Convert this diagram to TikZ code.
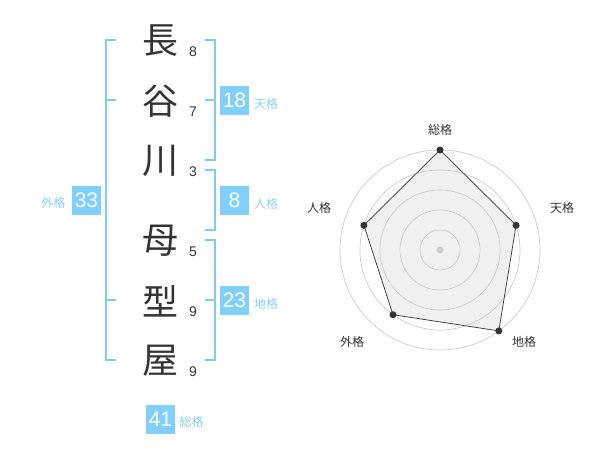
\documentclass[tikz,border=0pt]{standalone}
\usepackage{fontspec}
\newfontfamily\cjk{Noto Sans CJK JP}
\newfontfamily\arial{Liberation Sans}
\definecolor{brk}{HTML}{80CBF5}
\definecolor{boxblue}{HTML}{80CFFC}
\definecolor{lblue}{HTML}{8DD0F5}
\definecolor{ink}{HTML}{333333}
\definecolor{ring}{HTML}{CCCCCC}
\definecolor{area}{HTML}{F0F0F0}
\tikzset{
  namechar/.style={font=\cjk\fontsize{36}{36}\selectfont, text=ink, inner sep=0pt},
  strokes/.style={font=\arial\fontsize{14}{14}\selectfont, text=ink, inner sep=0pt, anchor=base},
  scorebox/.style={fill=boxblue, text=white, minimum width=29pt, minimum height=29pt, inner sep=0pt, font=\arial\fontsize{21}{21}\selectfont},
  kakulabel/.style={font=\cjk\fontsize{12}{12}\selectfont, text=lblue, inner sep=0pt},
  bracket/.style={draw=brk, line width=2pt},
  radarlabel/.style={font=\cjk\fontsize{12}{12}\selectfont, text=ink, inner sep=0pt},
  ringline/.style={draw=ring, line width=0.7pt},
  dotmark/.style={circle, fill=ink, minimum size=7pt, inner sep=0pt}
}
\begin{document}
\begin{tikzpicture}[x=1pt,y=-1pt]
\useasboundingbox (0,0) rectangle (600,470);
% name characters
\node[namechar] (c1) at (160,41) {長};
\node[namechar] (c2) at (160,101) {谷};
\node[namechar] (c3) at (160,161) {川};
\node[namechar] (c4) at (160,241) {母};
\node[namechar] (c5) at (160,301) {型};
\node[namechar] (c6) at (160,361) {屋};
% stroke counts
\node[strokes] (s1) at (193,57) {8};
\node[strokes] (s2) at (193,117) {7};
\node[strokes] (s3) at (193,177) {3};
\node[strokes] (s4) at (193,257) {5};
\node[strokes] (s5) at (193,317) {9};
\node[strokes] (s6) at (193,377) {9};
% brackets
\draw[bracket] (116,40) -- (106,40) -- (106,360) -- (116,360);
\draw[bracket] (106,100) -- (116,100);
\draw[bracket] (106,300) -- (116,300);
\draw[bracket] (205,40) -- (215,40) -- (215,160) -- (205,160);
\draw[bracket] (205,100) -- (215,100);
\draw[bracket] (205,170) -- (215,170) -- (215,230) -- (205,230);
\draw[bracket] (205,240) -- (215,240) -- (215,360) -- (205,360);
\draw[bracket] (205,300) -- (215,300);
% score boxes
\node[scorebox] (ten) at (234.5,100.5) {18};
\node[scorebox] (jin) at (234.5,200.5) {8};
\node[scorebox] (chi) at (234.5,300.5) {23};
\node[scorebox] (gai) at (86.5,200.5) {33};
\node[scorebox] (sou) at (160.5,419) {41};
\node[kakulabel] (tenl) at (266,104) {天格};
\node[kakulabel] (jinl) at (266,204) {人格};
\node[kakulabel] (chil) at (266,304) {地格};
\node[kakulabel] (gail) at (53.5,203) {外格};
\node[kakulabel] (soul) at (191.5,422) {総格};
% radar chart
\coordinate (o) at (440,250);
\coordinate (p1) at (440,150);
\coordinate (p2) at (516.1,225.3);
\coordinate (p3) at (498.8,330.9);
\coordinate (p4) at (393,314.7);
\coordinate (p5) at (363.9,225.3);
\fill[area] (p1) -- (p2) -- (p3) -- (p4) -- (p5) -- cycle;
\foreach \r in {20,40,60,80,100} {\draw[ringline] (o) circle (\r pt);}
\draw[ink, line width=0.7pt] (p1) -- (p2) -- (p3) -- (p4) -- (p5) -- cycle;
\node[circle, fill=ring, minimum size=7pt, inner sep=0pt] (center) at (o) {};
\node[dotmark] (d1) at (p1) {};
\node[dotmark] (d2) at (p2) {};
\node[dotmark] (d3) at (p3) {};
\node[dotmark] (d4) at (p4) {};
\node[dotmark] (d5) at (p5) {};
\node[radarlabel] (r1) at (440,130) {総格};
\node[radarlabel] (r2) at (562,208) {天格};
\node[radarlabel] (r3) at (524,342) {地格};
\node[radarlabel] (r4) at (352,342) {外格};
\node[radarlabel] (r5) at (319,208) {人格};
\end{tikzpicture}
\end{document}
